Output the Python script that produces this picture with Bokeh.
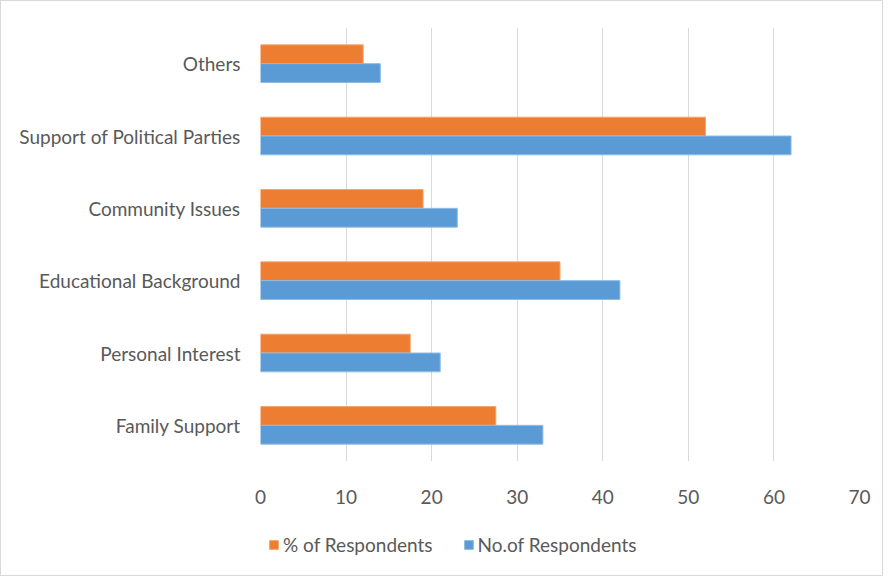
from bokeh.plotting import figure
from bokeh.layouts import column
from bokeh.models import FactorRange, Legend, LegendItem, ColumnDataSource
from bokeh.transform import dodge
from bokeh.embed import file_html
from bokeh.resources import INLINE

categories = ["Family Support", "Personal Interest", "Educational Background",
              "Community Issues", "Support of Political Parties", "Others"]
pct_respondents = [27.5, 17.5, 35, 19, 52, 12]
no_respondents = [33, 21, 42, 23, 62, 14]
x_ticks = [0, 10, 20, 30, 40, 50, 60, 70]
series_names = ["% of Respondents", "No.of Respondents"]

src = ColumnDataSource(dict(cat=categories, pct=pct_respondents, no=no_respondents))

FONT = "Lato"
GRAY = "#595959"
ORANGE, ORANGE_EDGE = "#ED7D31", "#F4A46F"
BLUE, BLUE_EDGE = "#5B9BD5", "#8DBBE4"

p = figure(width=881, height=520, y_range=FactorRange(*categories), x_range=(0, 70),
           output_backend="svg", toolbar_location=None,
           min_border_left=259, min_border_right=23, min_border_top=26, min_border_bottom=60)
p.outline_line_color = None

p.hbar(y=dodge("cat", 0.13, range=p.y_range), right="pct", left=0, height=0.26,
       source=src, fill_color=ORANGE, line_color=ORANGE_EDGE, line_width=1)
p.hbar(y=dodge("cat", -0.13, range=p.y_range), right="no", left=0, height=0.26,
       source=src, fill_color=BLUE, line_color=BLUE_EDGE, line_width=1)

p.xaxis.ticker = x_ticks
p.xgrid.grid_line_color = "#d9d9d9"
p.xgrid.grid_line_width = 1
p.ygrid.grid_line_color = None
for ax in (p.xaxis[0], p.yaxis[0]):
    ax.axis_line_color = None
    ax.major_tick_line_color = None
    ax.minor_tick_line_color = None
    ax.major_label_text_font = FONT
    ax.major_label_text_font_size = "19px"
    ax.major_label_text_color = GRAY
p.xaxis.major_label_standoff = 22
p.yaxis.major_label_standoff = 14

# legend strip (proxy renderers sit outside the visible range; only their legend swatches show)
lg = figure(width=881, height=54, x_range=(0, 1), y_range=(0, 1),
            output_backend="svg", toolbar_location=None,
            min_border_left=259, min_border_right=23, min_border_top=0, min_border_bottom=0)
lg.axis.visible = False
lg.grid.visible = False
lg.outline_line_color = None
proxy = ColumnDataSource(dict(y=[-5], right=[-5]))
l1 = lg.hbar(y="y", right="right", left=-6, height=0.1, source=proxy,
             fill_color=ORANGE, line_color=ORANGE_EDGE)
l2 = lg.hbar(y="y", right="right", left=-6, height=0.1, source=proxy,
             fill_color=BLUE, line_color=BLUE_EDGE)
legend = Legend(items=[LegendItem(label=series_names[0], renderers=[l1]),
                       LegendItem(label=series_names[1], renderers=[l2])],
                orientation="horizontal", location=(8, 19),
                glyph_width=11, glyph_height=11, label_standoff=4, spacing=30,
                padding=0, margin=0, border_line_color=None, background_fill_alpha=0,
                label_text_font=FONT, label_text_font_size="19px", label_text_color=GRAY)
lg.add_layout(legend, "center")

layout = column(p, lg, spacing=0, styles={"border": "1px solid #d9d9d9"})

open("out.html", "w").write(file_html(layout, INLINE))
